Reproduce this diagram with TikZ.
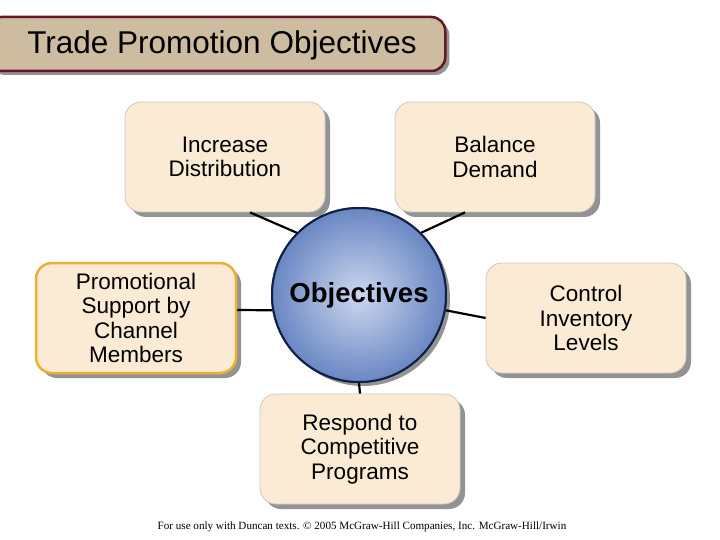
\documentclass[tikz,border=0pt]{standalone}
\usepackage{fontspec}
\setmainfont{Liberation Sans}
\newfontfamily\footfont{Liberation Serif}
\usetikzlibrary{shadows}
\definecolor{boxfill}{RGB}{252,235,212}
\definecolor{boxline}{RGB}{200,200,200}
\definecolor{shadowgray}{RGB}{120,120,120}
\definecolor{titlefill}{RGB}{205,188,160}
\definecolor{titleline}{RGB}{100,22,40}
\definecolor{orangeline}{RGB}{235,175,50}
\definecolor{circin}{RGB}{205,215,238}
\definecolor{circout}{RGB}{105,135,195}
\definecolor{circline}{RGB}{18,30,70}
\begin{document}
\begin{tikzpicture}[x=1pt,y=-1pt,
  objbox/.style={draw=boxline, line width=0.8pt, fill=boxfill, rounded corners=16pt,
    minimum width=200pt, minimum height=110pt, align=center, font=\fontsize{22.5}{24.4}\selectfont,
    drop shadow={shadow xshift=5pt, shadow yshift=-5pt, fill=shadowgray, opacity=0.8}},
  objcirc/.style={circle, draw=circline, line width=2pt, inner color=circin, outer color=circout,
    minimum size=174pt, font=\bfseries\fontsize{27.5}{30}\selectfont},
  link/.style={draw=black, line width=2.2pt}]
\useasboundingbox (0,0) rectangle (720,540);
\fill[white] (0,0) rectangle (720,540);
% title
\node[draw=titleline, line width=2.5pt, fill=titlefill, rounded corners=14pt,
  minimum width=458pt, minimum height=54pt, anchor=west, inner sep=0pt,
  drop shadow={shadow xshift=4pt, shadow yshift=-4pt, fill=shadowgray, opacity=0.8}]
  (title) at (-14,44) {};
\node[font=\fontsize{31.5}{36}\selectfont, anchor=center] (titletext) at (222,45) {Trade Promotion Objectives};
% boxes
\node[objbox] (inc) at (225,157) {Increase\\Distribution};
\node[objbox] (bal) at (495,157) {Balance\\Demand};
\node[objbox, draw=orangeline, line width=2.5pt] (pro) at (136,318) {Promotional\\Support by\\Channel\\Members};
\node[objbox] (ctl) at (586,318) {Control\\Inventory\\Levels};
\node[objbox] (res) at (360,449) {Respond to\\Competitive\\Programs};
% circle with shadow
\node[objcirc, drop shadow={shadow xshift=4pt, shadow yshift=-4pt, fill=shadowgray, opacity=0.8}]
  (obj) at (359,295) {Objectives};
% links
\draw[link] (inc.south) ++(25,0) coordinate (a0) -- (obj.135);
\draw[link] (bal.south) ++(-30,0) coordinate (b0) -- (obj.45);
\draw[link] (pro.east) ++(0,-8) coordinate (c0) -- (obj.190);
\draw[link] (ctl.west) -- (obj.-10);
\draw[link] (res.north) -- (obj.south);
% circle on top of the links
\node[objcirc] (obj2) at (359,295) {Objectives};
\node[font=\footfont\fontsize{11.1}{13}\selectfont] (foot) at (362,527)
  {For use only with Duncan texts. © 2005 McGraw-Hill Companies, Inc. McGraw-Hill/Irwin};
\end{tikzpicture}
\end{document}
